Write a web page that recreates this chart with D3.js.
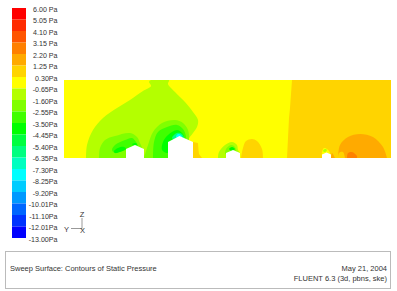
<!DOCTYPE html>
<html>
<head>
<meta charset="utf-8">
<script src="https://d3js.org/d3.v7.min.js"></script>
<style>
	html, body { margin: 0; padding: 0; background: #fff; }
	svg { display: block; }
	text { font-family: "Liberation Sans", Arial, sans-serif; fill: #333; }
</style>
</head>
<body>
<svg width="397" height="291"></svg>
<script>
// colour bar
const levels = ['6.00 Pa', '5.05 Pa', '4.10 Pa', '3.15 Pa', '2.20 Pa', '1.25 Pa', '0.30Pa', '-0.65Pa',
	'-1.60Pa', '-2.55Pa', '-3.50Pa', '-4.45Pa', '-5.40Pa', '-6.35Pa', '-7.30Pa', '-8.25Pa',
	'-9.20Pa', '-10.01Pa', '-11.10Pa', '-12.01Pa', '-13.00Pa'];
const bandColors = ['#ff0000', '#ff2b00', '#ff5500', '#ff8000', '#ffaa00', '#ffd400', '#ffff00',
	'#b4ff00', '#80ff00', '#40ff00', '#00ff00', '#00ff40', '#00ff80', '#00ffc0', '#00ffff',
	'#00ccff', '#0099ff', '#0066ff', '#0033ff', '#0000ff'];

// contour patches, in plot units from the lower left corner, painted in this order.
// open ones get shut along the ground or under a building
const goldHalf = [[223, 0], [224, 20], [225, 40], [226, 50], [228, 78], [330, 78], [330, 0]];
const mainPlume = [[22, 0], [23, 13], [29, 28], [39, 40], [53, 50], [66, 58], [79, 67], [87, 72], [85, 76],
	[87, 78], [105, 78], [104, 74], [111, 66], [121, 56], [129, 46], [134, 38], [133, 31], [129, 25], [124, 18], [121, 8], [118, 0]];
const plumeA = [[35, 0], [36, 10], [41, 18], [51, 22], [66, 25], [73, 21], [76, 15], [79, 8], [81, 0]];
const plumeB = [[80, 0], [84, 13], [89, 26], [98, 35], [111, 38], [119, 35], [124, 28], [125, 19], [123, 13], [120, 0]];
const innerA = [[48, 8], [51, 13], [61, 18], [68, 20], [72, 16], [74, 12], [71, 12], [62, 9], [51, 5]];
const innerB = [[89, 0], [90, 16], [94, 26], [103, 31], [113, 33], [119, 29], [122, 21], [121, 16], [118, 0]];
const coreA1 = [[50, 7], [54, 10], [60, 11], [62, 9], [56, 6], [51, 5]];
const coreA2 = [[68, 14], [72, 15], [73, 13], [69, 13]];
const coreB = [[98, 8], [99, 16], [104, 23], [113, 28], [118, 25], [120, 20], [110, 8], [103, 5]];
const tipB1 = [[108, 20], [113, 25], [118, 24], [120, 19], [112, 18]];
const tipB2 = [[112, 21], [114, 24], [117, 23], [118, 21], [115, 20]];
const wakeGold = [[129, 0], [129, 16], [134, 15], [134.5, 8], [135, 4], [138, 0]];
const plumeC = [[154, 0], [155, 6], [161, 13], [168, 16], [173, 13], [174, 8], [176, 5], [176, 0]];
const innerC = [[161, 4], [162, 9], [167, 13], [171, 11], [173, 5]];
const coreC = [[165, 9], [168, 11], [171, 9], [168, 7]];
const blobGold = [[177, 0], [179, 10], [182, 17], [188, 19], [193, 17], [198, 9], [199, 0]];
const domeOrange = [[274, 0], [276, 13], [284, 21], [296, 24], [309, 21], [319, 11], [323, 0]];
const domeDeep = [[283, 0], [284, 5], [288, 6], [293, 2], [293, 0]];
const sideOrange = [[267, 0], [268, 5], [271, 0]];
const sideGold = [[274, 0], [275, 5], [279, 6], [281, 0]];
const haloYellow = [[258, 0], [258, 6], [260, 10], [263, 9], [266, 5], [266, 0]];
const haloGreen = [[259, 7], [261, 9], [263, 8], [261, 6]];

const patches = [
	{ pts: goldHalf, band: 5, sharp: true },
	{ pts: mainPlume, band: 7 },
	{ pts: plumeA, band: 8 },
	{ pts: plumeB, band: 8 },
	{ pts: innerA, band: 9, closed: true },
	{ pts: innerB, band: 9 },
	{ pts: coreA1, band: 10, closed: true },
	{ pts: coreA2, band: 10, closed: true },
	{ pts: coreB, band: 10, closed: true },
	{ pts: tipB1, band: 12, closed: true },
	{ pts: tipB2, band: 14, closed: true },
	{ pts: wakeGold, band: 5, sharp: true },
	{ pts: plumeC, band: 7 },
	{ pts: innerC, band: 8 },
	{ pts: coreC, band: 10, closed: true },
	{ pts: blobGold, band: 5 },
	{ pts: domeOrange, band: 4 },
	{ pts: domeDeep, band: 3 },
	{ pts: sideOrange, band: 4 },
	{ pts: sideGold, band: 5 },
	{ pts: haloYellow, band: 6 },
	{ pts: haloGreen, band: 7, closed: true }
];

const buildings = [
	[[62, 0], [62, 9], [71, 13], [80, 9], [80, 0]],
	[[104, 0], [104, 16], [115.5, 22], [129, 16], [129, 0]],
	[[162, 0], [162, 5], [169, 8], [176, 5], [176, 0]],
	[[258, 0], [258, 3.5], [262.5, 5.5], [267, 3.5], [267, 0]]
];

const titleText = 'Sweep Surface: Contours of Static Pressure';
const dateText = 'May 21, 2004';
const solverText = 'FLUENT 6.3 (3d, pbns, ske)';

const svg = d3.select('svg');

// legend
const barY = d3.scalePoint().domain(levels).range([8, 238]);

svg.append('g').selectAll('rect')
	.data(bandColors)
	.enter().append('rect')
		.attr('x', 12)
		.attr('width', 14)
		.attr('y', (d, i) => barY(levels[i]))
		.attr('height', (d, i) => barY(levels[i + 1]) - barY(levels[i]))
		.attr('fill', d => d);

svg.append('g').selectAll('text')
	.data(levels)
	.enter().append('text')
		.attr('x', 57.5)
		.attr('y', d => barY(d) + 3.5)
		.attr('text-anchor', 'end')
		.attr('font-size', 7.1)
		.text(d => d);

// contour plot
const x = d3.scaleLinear().domain([0, 327]).range([64, 391]);
const y = d3.scaleLinear().domain([0, 78]).range([158, 80]);

svg.append('clipPath').attr('id', 'plot-clip')
	.append('rect')
		.attr('x', x(0))
		.attr('y', y(78))
		.attr('width', x(327) - x(0))
		.attr('height', y(0) - y(78));

const openLine = d3.line().x(d => x(d[0])).y(d => y(d[1])).curve(d3.curveCatmullRom);
const closedLine = d3.line().x(d => x(d[0])).y(d => y(d[1])).curve(d3.curveCatmullRomClosed);
const sharpLine = d3.line().x(d => x(d[0])).y(d => y(d[1]));

const plot = svg.append('g').attr('clip-path', 'url(#plot-clip)');

plot.append('rect')
	.attr('x', x(0))
	.attr('y', y(78))
	.attr('width', x(327) - x(0))
	.attr('height', y(0) - y(78))
	.attr('fill', bandColors[6]);

plot.selectAll('path.patch')
	.data(patches)
	.enter().append('path')
		.attr('class', 'patch')
		.attr('d', d => {
			if (d.closed) return closedLine(d.pts);
			return (d.sharp ? sharpLine(d.pts) : openLine(d.pts)) + 'Z';
		})
		.attr('fill', d => bandColors[d.band]);

plot.selectAll('path.building')
	.data(buildings)
	.enter().append('path')
		.attr('class', 'building')
		.attr('d', d => sharpLine(d) + 'Z')
		.attr('fill', '#fff');

// axis triad
const triad = svg.append('g');
triad.append('path').attr('d', 'M82,218V228.5H71').attr('fill', 'none').attr('stroke', '#999').attr('stroke-width', 1);
triad.append('text').attr('x', 82).attr('y', 217).attr('text-anchor', 'middle').attr('font-size', 7.5).text('Z');
triad.append('text').attr('x', 66.5).attr('y', 232).attr('text-anchor', 'middle').attr('font-size', 7.5).text('Y');
triad.append('text').attr('x', 82.5).attr('y', 232.5).attr('text-anchor', 'middle').attr('font-size', 7.5).text('X');

// caption box
svg.append('rect')
	.attr('x', 5.5)
	.attr('y', 251.5)
	.attr('width', 385)
	.attr('height', 37)
	.attr('fill', '#fff')
	.attr('stroke', '#bbb');

svg.append('text').attr('x', 10).attr('y', 271).attr('font-size', 7.5).text(titleText);
svg.append('text').attr('x', 387).attr('y', 271).attr('text-anchor', 'end').attr('font-size', 7.5).text(dateText);
svg.append('text').attr('x', 387).attr('y', 281).attr('text-anchor', 'end').attr('font-size', 7.5).text(solverText);
</script>
</body>
</html>
